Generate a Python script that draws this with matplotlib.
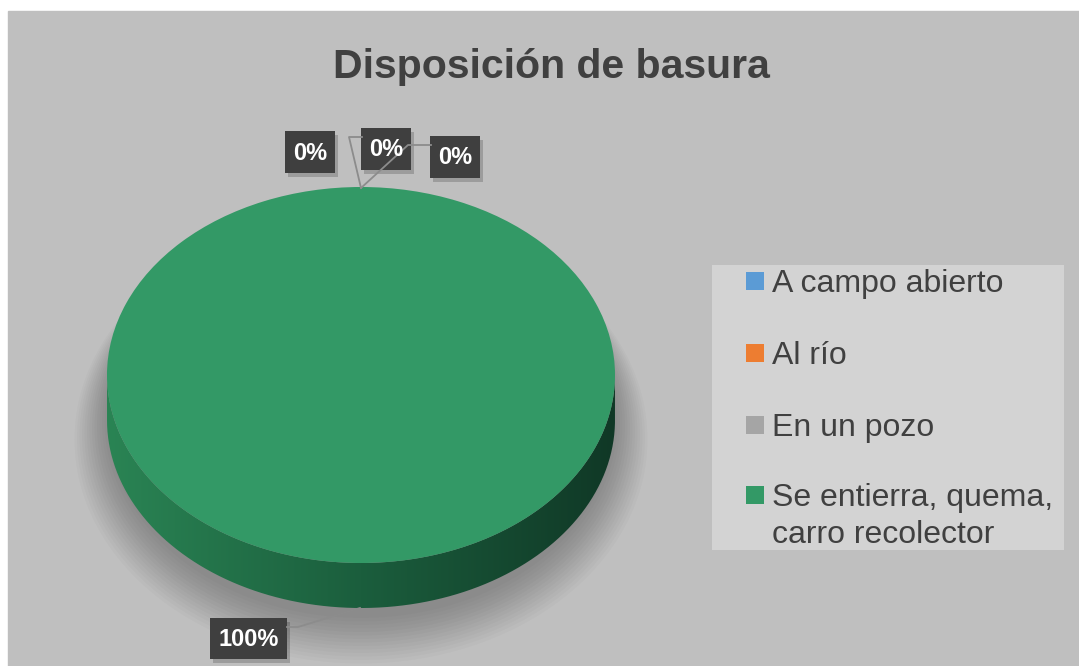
import numpy as np
import matplotlib
matplotlib.use("Agg")
import matplotlib.pyplot as plt
from matplotlib import font_manager
from matplotlib.patches import Rectangle, Ellipse, PathPatch
from matplotlib.path import Path

# data
categorias = ["A campo abierto", "Al río", "En un pozo",
              "Se entierra, quema,\ncarro recolector"]
valores = [0, 0, 0, 100]
colores = ["#5b9bd5", "#ed7d31", "#a5a5a5", "#339966"]
titulo = "Disposición de basura"


def pick(*names):
    for n in names:
        try:
            font_manager.findfont(n, fallback_to_default=False)
            return n
        except ValueError:
            pass
    return "DejaVu Sans"


narrow = pick("Liberation Sans Narrow", "Liberation Sans")
regular = pick("Liberation Sans", "Arial", "DejaVu Sans")
es_narrow = narrow == "Liberation Sans Narrow"
tam_titulo = 33 if es_narrow else 29.5
tam_etiq = 19.5 if es_narrow else 17

W, H = 1079, 666
fig = plt.figure(figsize=(W / 100, H / 100), dpi=100, facecolor="white")

# capa de fondo en pixeles
bg = fig.add_axes([0, 0, 1, 1], zorder=0)
bg.set_xlim(0, W)
bg.set_ylim(H, 0)
bg.axis("off")
bg.add_patch(Rectangle((8, 11), W - 8, H - 11, color="#bfbfbf"))

# sombra suave del pastel
cx, cy, rx, ry, prof = 361, 375, 254, 188, 45
for i in range(14):
    bg.add_patch(Ellipse((cx, cy + 45 + i * 1.5), 2 * rx + i * 5, 2 * ry + 20 + i * 4,
                         color="black", alpha=0.02, lw=0))

# pastel 3D
d = prof / ry
ax = fig.add_axes([(cx - rx) / W, (H - cy - ry - prof) / H, 2 * rx / W, (2 * ry + prof) / H],
                  zorder=1)
ax.patch.set_alpha(0)

# lateral con degradado
t = np.linspace(np.pi, 2 * np.pi, 200)
xs = np.concatenate([np.cos(t), np.cos(t[::-1])])
ys = np.concatenate([np.sin(t), np.sin(t[::-1]) - d])
lado = PathPatch(Path(np.column_stack([xs, ys])), facecolor="none", lw=0)
ax.add_patch(lado)
grad = np.linspace(0, 1, 256)[None, :]
cmap = matplotlib.colors.LinearSegmentedColormap.from_list("lado", ["#2a8454", "#1b5e3d", "#103826"])
im = ax.imshow(grad, extent=(-1, 1, -1 - d, 0), cmap=cmap, aspect="auto", zorder=1)
im.set_clip_path(lado)

cuñas, _ = ax.pie(valores, colors=colores, startangle=90, counterclock=False,
                  radius=1, wedgeprops=dict(linewidth=0, zorder=2))
ax.set_aspect("auto")
ax.set_xlim(-1, 1)
ax.set_ylim(-1 - d, 1)
ax.axis("off")

# capa superior: titulo, etiquetas, leyenda
top = fig.add_axes([0, 0, 1, 1], zorder=2)
top.set_xlim(0, W)
top.set_ylim(H, 0)
top.axis("off")
top.patch.set_alpha(0)

top.text(551, 78, titulo, ha="center", va="baseline", fontsize=tam_titulo,
         fontweight="bold", color="#404040", family=narrow)

# lineas guia
gris = "#8c8c8c"
top.plot([361, 349, 362], [188, 137, 137], color=gris, lw=1.3)
top.plot([361, 408, 431], [188, 145, 145], color=gris, lw=1.3)
top.plot([360, 298, 287], [608, 627, 627], color=gris, lw=1.3)

total = sum(valores)
cajas = [(285, 131, 50, 42), (361, 128, 50, 42), (430, 136, 50, 42), (210, 618, 77, 41)]
for v, (x, y, w, h) in zip(valores, cajas):
    top.add_patch(Rectangle((x + 3, y + 4), w, h, color="black", alpha=0.18, lw=0))
    top.add_patch(Rectangle((x, y), w, h, color="#3f3f3f", lw=0))
    top.text(x + w / 2, y + h / 2 + 1, f"{round(v / total * 100)}%", ha="center",
             va="center", color="white", fontsize=tam_etiq, fontweight="bold", family=narrow)

# leyenda
top.add_patch(Rectangle((712, 265), 352, 285, color="#d3d3d3", lw=0))
ys_ley = [281, 353, 425, 495]
for c, lab, yc in zip(colores, categorias, ys_ley):
    top.add_patch(Rectangle((746, yc - 9), 18, 18, color=c, lw=0))
    for k, linea in enumerate(lab.split("\n")):
        top.text(772, yc + 11 + k * 37, linea, ha="left", va="baseline", fontsize=23,
                 color="#404040", family=regular)

fig.savefig("out.png", dpi=100, facecolor="white")
